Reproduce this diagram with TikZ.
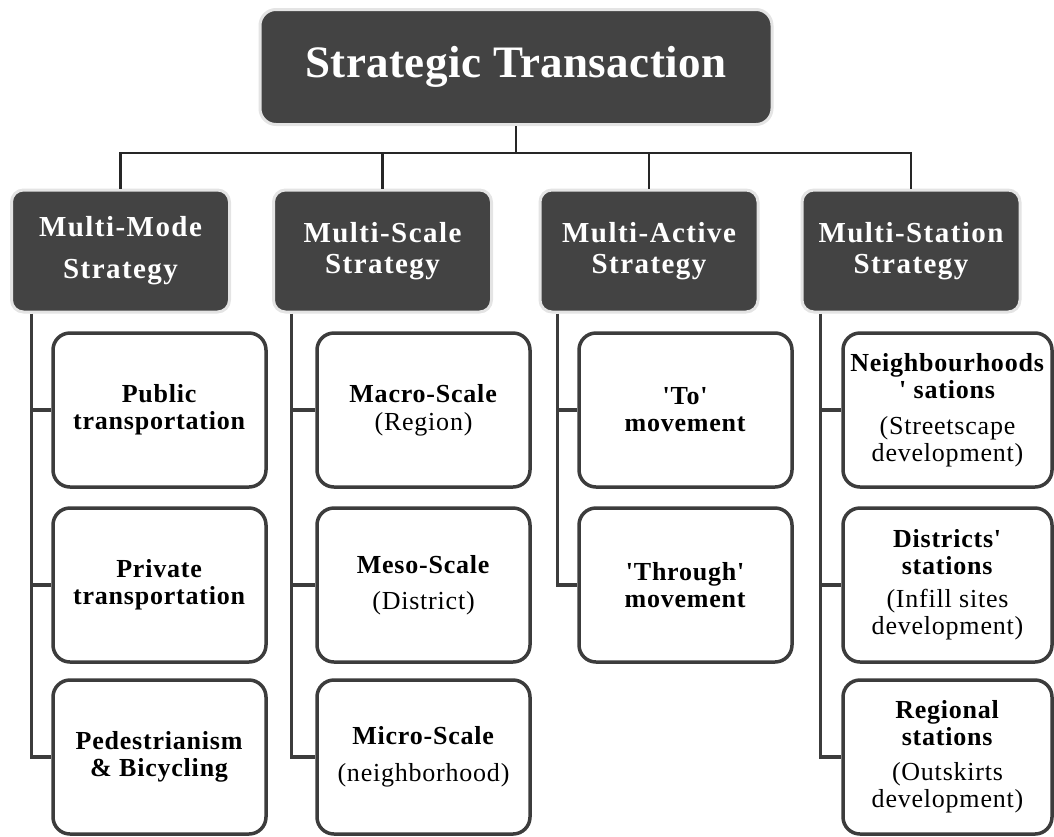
\documentclass[tikz,border=0pt]{standalone}
\usepackage{fontspec}
\setmainfont{Liberation Serif}
\newfontfamily\lblfont{Liberation Serif}[LetterSpace=3]
\newfontfamily\stratfont{Liberation Serif}[LetterSpace=5]
\newfontfamily\rootfont{Liberation Serif}[LetterSpace=1]
\usetikzlibrary{positioning,calc}
\definecolor{sdark}{HTML}{434343}
\definecolor{shalo}{HTML}{E4E4E4}
\definecolor{sline}{HTML}{3C3C3C}

\tikzset{
 topbox/.style={fill=sdark,draw=shalo,line width=3pt,rounded corners=16pt,
  minimum width=512pt,minimum height=115pt,text=white,
  font=\rootfont\fontsize{45}{50}\selectfont\bfseries},
 stratbox/.style={fill=sdark,draw=shalo,line width=3pt,rounded corners=12pt,
  minimum width=218pt,minimum height=122pt,inner sep=0pt,text=white,align=center,
  font=\stratfont\fontsize{29}{31}\selectfont\bfseries},
 itembox/.style={fill=white,draw=sline,line width=3.5pt,rounded corners=17pt,
  minimum width=213pt,minimum height=154pt,inner sep=0pt,align=center,
  font=\lblfont\fontsize{26}{27}\selectfont},
 link/.style={draw=black!85,line width=2.5pt},
 trunk/.style={draw=sline,line width=3.5pt},
}

\begin{document}
\begin{tikzpicture}[x=1pt,y=-1pt]
 \useasboundingbox (0,0) rectangle (1054,836);
 % root and strategies
 \node[topbox] (top) at (516,67) {Strategic Transaction};
 \node[stratbox] (mode) at (120.5,251) {Multi-Mode\\[11pt]Strategy};
 \node[stratbox] (scale) at (382.5,251) {Multi-Scale\\Strategy};
 \node[stratbox] (active) at (649,251) {Multi-Active\\Strategy};
 \node[stratbox] (station) at (911,251) {Multi-Station\\Strategy};
 \coordinate (bus) at (516,153);
 \draw[link] (top) -- (bus);
 \foreach \s in {mode,scale,active,station}
  \draw[link] (bus) -| (\s.north);
 % multi-mode
 \node[itembox] (pub) at (159.5,410) {\textbf{Public}\\\textbf{transportation}};
 \node[itembox] (priv) at (159.5,585) {\textbf{Private}\\\textbf{transportation}};
 \node[itembox] (ped) at (159.5,757) {\textbf{Pedestrianism}\\\textbf{\& Bicycling}};
 % multi-scale
 \node[itembox] (macro) at (423.5,410) {\textbf{Macro-Scale}\\[1pt](Region)};
 \node[itembox] (meso) at (423.5,585) {\textbf{Meso-Scale}\\[9pt](District)};
 \node[itembox] (micro) at (423.5,757) {\textbf{Micro-Scale}\\[10pt](neighborhood)};
 % multi-active
 \node[itembox] (to) at (685.5,410) {\textbf{'To'}\\\textbf{movement}};
 \node[itembox] (thru) at (685.5,585) {\textbf{'Through'}\\\textbf{movement}};
 % multi-station
 \node[itembox,minimum width=209pt] (nbh) at (947.5,410)
  {\textbf{Neighbourhoods}\\\textbf{' sations}\\[9pt](Streetscape\\development)};
 \node[itembox,minimum width=209pt] (dist) at (947.5,585)
  {\textbf{Districts'}\\\textbf{stations}\\[6pt](Infill sites\\development)};
 \node[itembox,minimum width=209pt] (reg) at (947.5,757)
  {\textbf{Regional}\\\textbf{stations}\\[8pt](Outskirts\\development)};
 % trunks
 \draw[trunk] ([xshift=-20pt]pub.west |- mode.south) |- (ped.west);
 \draw[trunk] ([xshift=-20pt]pub.west) -- (pub.west);
 \draw[trunk] ([xshift=-20pt]priv.west) -- (priv.west);
 \draw[trunk] ([xshift=-24pt]macro.west |- scale.south) |- (micro.west);
 \draw[trunk] ([xshift=-24pt]macro.west) -- (macro.west);
 \draw[trunk] ([xshift=-24pt]meso.west) -- (meso.west);
 \draw[trunk] ([xshift=-20pt]to.west |- active.south) |- (thru.west);
 \draw[trunk] ([xshift=-20pt]to.west) -- (to.west);
 \draw[trunk] ([xshift=-21pt]nbh.west |- station.south) |- (reg.west);
 \draw[trunk] ([xshift=-21pt]nbh.west) -- (nbh.west);
 \draw[trunk] ([xshift=-21pt]dist.west) -- (dist.west);
\end{tikzpicture}
\end{document}
